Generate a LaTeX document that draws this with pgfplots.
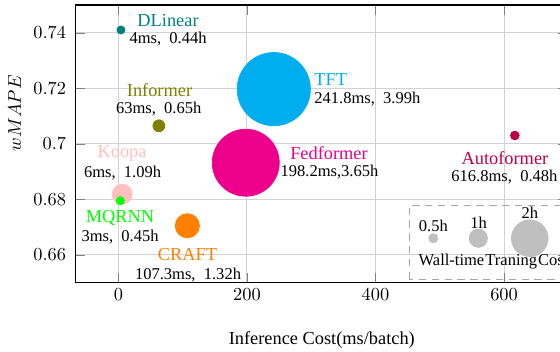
\documentclass[border=0pt]{standalone}
\usepackage{fontspec}
\setmainfont{Liberation Serif}
\usepackage{pgfplots}
\pgfplotsset{compat=1.18}
\usepackage{pgfplotstable}

\definecolor{tftblue}{HTML}{00AEEF}
\definecolor{fedmag}{HTML}{EC008C}
\definecolor{autored}{HTML}{BF0040}
\definecolor{koopapink}{HTML}{FFBFBF}
\definecolor{mqgreen}{HTML}{00FF00}
\definecolor{craftorange}{HTML}{FF8000}
\definecolor{dlteal}{HTML}{008080}
\definecolor{infolive}{HTML}{808000}
\definecolor{bubblegray}{HTML}{BFBFBF}

% inference cost (ms/batch), wMAPE, wall-time training cost (h)
\pgfplotstableread{
name       x      y       h
DLinear    4      0.741   0.44
Informer   63     0.7065  0.65
TFT        241.8  0.7197  3.99
Fedformer  198.2  0.6932  3.65
Autoformer 616.8  0.703   0.48
Koopa      6      0.6819  1.09
MQRNN      3      0.6795  0.45
CRAFT      107.3  0.6705  1.32
}\models

% reference bubbles for the size key
\pgfplotstableread{
x    y      h
490  0.666  0.5
560  0.666  1
640  0.666  2
}\sizekey

\begin{document}
\begin{tikzpicture}
\begin{axis}[
  scale only axis,
  width=268.7pt, height=151.35pt,
  xmin=-67, xmax=700,
  ymin=0.65, ymax=0.75,
  xtick={0,200,400,600},
  ytick={0.66,0.68,0.70,0.72,0.74},
  grid=major,
  grid style={gray!35, line width=0.5pt},
  major tick length=5.5pt,
  axis line style={line width=0.6pt},
  yticklabel style={xshift=-1.5pt},
  xlabel={Inference Cost(ms/batch)},
  xlabel style={yshift=-10pt},
  ylabel={$wMAPE$},
  ylabel style={at={(ticklabel cs:0.61)}},
  clip=false,
]
\addplot[scatter, only marks, mark=*,
  point meta=explicit symbolic,
  scatter/classes={
    DLinear={dlteal}, Informer={infolive}, TFT={tftblue},
    Fedformer={fedmag}, Autoformer={autored}, Koopa={koopapink},
    MQRNN={mqgreen}, CRAFT={craftorange}},
  visualization depends on={\thisrow{h} \as \hrs},
  scatter/@pre marker code/.append style={/tikz/mark size=5*\hrs},
] table[x=x, y=y, meta=name] {\models};

\addplot[scatter, only marks, mark=*, draw=bubblegray, fill=bubblegray,
  scatter/use mapped color={draw=bubblegray, fill=bubblegray},
  visualization depends on={\thisrow{h} \as \hrs},
  scatter/@pre marker code/.append style={/tikz/mark size=5*\hrs},
] table[x=x, y=y] {\sizekey};

% model names and their costs
\node[text=dlteal] at (axis cs:77.3,0.7444) {DLinear};
\node[font=\small] at (axis cs:77.3,0.7378) {4ms,~~0.44h};
\node[text=infolive] at (axis cs:64,0.7192) {Informer};
\node[font=\small] at (axis cs:62.8,0.7127) {63ms,~~0.65h};
\node[text=koopapink] at (axis cs:5.8,0.6964) {Koopa};
\node[font=\small] at (axis cs:6.5,0.6896) {6ms,~~1.09h};
\node[text=mqgreen] at (axis cs:2.6,0.6734) {MQRNN};
\node[font=\small] at (axis cs:2.6,0.6666) {3ms,~~0.45h};
\node[text=craftorange] at (axis cs:107.6,0.66) {CRAFT};
\node[font=\small] at (axis cs:108.4,0.6528) {107.3ms,~~1.32h};
\node[text=tftblue, anchor=west, inner xsep=0pt] at (axis cs:304.4,0.7231) {TFT};
\node[font=\small, anchor=west, inner xsep=0pt] at (axis cs:304.4,0.7163) {241.8ms,~~3.99h};
\node[text=fedmag] at (axis cs:327.7,0.6968) {Fedformer};
\node[font=\small] at (axis cs:328.5,0.6899) {198.2ms,3.65h};
\node[text=autored] at (axis cs:601.4,0.695) {Autoformer};
\node[font=\small] at (axis cs:600.6,0.6881) {616.8ms,~~0.48h};

% size key
\draw[gray!70, dash pattern=on 4pt off 3pt] (axis cs:452.6,0.6513) rectangle (axis cs:760,0.678);
\node[font=\small] at (axis cs:490,0.6704) {0.5h};
\node[font=\small] at (axis cs:560.5,0.6716) {1h};
\node[font=\small] at (axis cs:640,0.675) {2h};
\node[font=\small, anchor=west, inner xsep=0pt] at (axis cs:466.6,0.6575) {Wall-time\kern0.6pt Traning\kern0.6pt Cost};
\end{axis}
\pgfresetboundingbox
\path[use as bounding box] (-41.04pt,-37.77pt) rectangle (264.16pt,154.07pt);
\end{tikzpicture}
\end{document}
